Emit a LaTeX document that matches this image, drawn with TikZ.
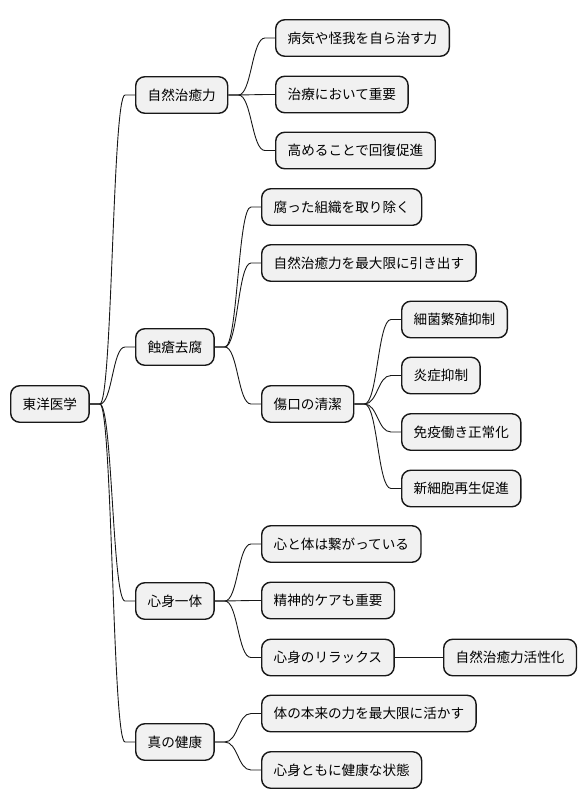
\documentclass[tikz,border=0pt]{standalone}
\usepackage{fontspec}
\setmainfont{Noto Sans CJK JP}
\usetikzlibrary{calc}
\definecolor{boxfill}{HTML}{F1F1F1}
\definecolor{boxline}{HTML}{181818}
\tikzset{
  mbox/.style={draw=boxline, fill=boxfill, line width=1.4pt, rounded corners=9pt,
    minimum height=36.5pt, inner xsep=12pt, inner ysep=0pt, anchor=west,
    font=\fontsize{13.6pt}{16pt}\selectfont, text=black},
  link/.style={draw=boxline, line width=0.9pt, to path={
    let \p1=(\tikztostart), \p2=(\tikztotarget) in
    -- ($(\x1,\y1)+(10pt,0)$)
    .. controls ({(\x1+\x2)/2},\y1) and ({(\x1+\x2)/2},\y2) ..
    ($(\x2,\y2)+(-10pt,0)$) -- (\x2,\y2)}}
}
\begin{document}
\begin{tikzpicture}[x=1pt,y=-1pt]
\useasboundingbox (0,0) rectangle (586,809);
% root
\node[mbox] (root) at (10,404) {東洋医学};
% level 1
\node[mbox] (A) at (135,95) {自然治癒力};
\node[mbox] (B) at (135,347) {蝕瘡去腐};
\node[mbox] (C) at (135,601) {心身一体};
\node[mbox] (D) at (135,742) {真の健康};
% level 2
\node[mbox] (A1) at (275,38) {病気や怪我を自ら治す力};
\node[mbox] (A2) at (275,94.5) {治療において重要};
\node[mbox] (A3) at (275,150.5) {高めることで回復促進};
\node[mbox] (B1) at (261,207) {腐った組織を取り除く};
\node[mbox] (B2) at (261,263) {自然治癒力を最大限に引き出す};
\node[mbox] (B3) at (261,404) {傷口の清潔};
\node[mbox] (C1) at (261,544) {心と体は繋がっている};
\node[mbox] (C2) at (261,600.5) {精神的ケアも重要};
\node[mbox] (C3) at (261,657.5) {心身のリラックス};
\node[mbox] (D1) at (261,713.5) {体の本来の力を最大限に活かす};
\node[mbox] (D2) at (261,770) {心身ともに健康な状態};
% level 3
\node[mbox] (B31) at (401,319.5) {細菌繁殖抑制};
\node[mbox] (B32) at (401,375.5) {炎症抑制};
\node[mbox] (B33) at (401,432) {免疫働き正常化};
\node[mbox] (B34) at (401,488.5) {新細胞再生促進};
\node[mbox] (C31) at (443,657.5) {自然治癒力活性化};
% connectors
\foreach \p/\c in {root/A,root/B,root/C,root/D,A/A1,A/A2,A/A3,B/B1,B/B2,B/B3,
  B3/B31,B3/B32,B3/B33,B3/B34,C/C1,C/C2,C/C3,C3/C31,D/D1,D/D2}
  \draw[link] (\p.east) to (\c.west);
\end{tikzpicture}
\end{document}
